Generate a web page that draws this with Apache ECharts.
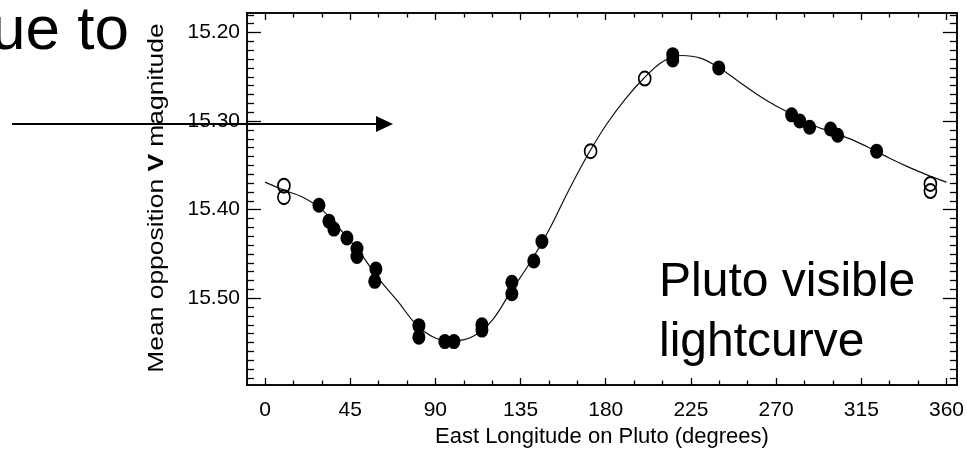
<!DOCTYPE html>
<html>
<head>
<meta charset="utf-8">
<script src="https://cdn.jsdelivr.net/npm/echarts@6/dist/echarts.min.js"></script>
<style>
html,body{margin:0;padding:0;background:#fff;}
#chart{width:967px;height:453px;}
</style>
</head>
<body>
<div id="chart"></div>
<script>
// ---- data (East longitude in degrees, mean opposition V magnitude) ----
var filledLon = [28.5, 33.8, 36.4, 43.3, 48.6, 48.6, 58.6, 58.0, 81.3, 81.3, 95.0, 99.8, 114.6, 114.6, 130.4, 130.4, 142.0, 146.3, 215.4, 215.4, 239.7, 278.2, 282.5, 287.7, 298.8, 302.5, 323.1];
var filledMag = [15.395, 15.413, 15.422, 15.432, 15.444, 15.453, 15.467, 15.481, 15.531, 15.544, 15.549, 15.549, 15.530, 15.536, 15.482, 15.495, 15.458, 15.436, 15.225, 15.231, 15.240, 15.293, 15.300, 15.307, 15.309, 15.316, 15.334];
var openLon = [10.0, 10.0, 172.0, 200.6, 351.5, 351.5];
var openMag = [15.373, 15.386, 15.334, 15.252, 15.371, 15.379];
var curveLon = [0, 10, 20, 30, 40, 50, 60, 70, 80, 90, 100, 110, 120, 130, 140, 150, 160, 170, 180, 190, 200, 210, 220, 230, 240, 250, 260, 270, 280, 290, 300, 310, 320, 330, 340, 350, 360];
var curveMag = [15.369, 15.378, 15.386, 15.400, 15.423, 15.448, 15.478, 15.503, 15.530, 15.545, 15.548, 15.543, 15.525, 15.492, 15.460, 15.423, 15.380, 15.340, 15.305, 15.276, 15.252, 15.233, 15.226, 15.229, 15.240, 15.255, 15.270, 15.283, 15.294, 15.305, 15.313, 15.321, 15.331, 15.342, 15.352, 15.361, 15.369];
var xMajorTicks = [0, 45, 90, 135, 180, 225, 270, 315, 360];
var xMinorTicks = [15, 30, 60, 75, 105, 120, 150, 165, 195, 210, 240, 255, 285, 300, 330, 345];
var yMajorTicks = [15.20, 15.30, 15.40, 15.50];

var yMinorTicks = [];
for (var i = 18; i <= 59; i++) {
  var v = Math.round((15 + i / 100) * 100) / 100;
  if (yMajorTicks.indexOf(v) < 0) yMinorTicks.push(v);
}
function pairs(a, b) { return a.map(function (x, i) { return [x, b[i]]; }); }

var FONT = 'Liberation Sans, Arial, sans-serif';
var X_MIN = -9.5, X_MAX = 365.5, Y_MIN = 15.178, Y_MAX = 15.598;
var axisLine = { show: true, onZero: false, lineStyle: { color: '#000', width: 1.5 } };

function xAx(pos, ticks, len, labels, name) {
  return {
    type: 'value', position: pos, min: X_MIN, max: X_MAX,
    axisLine: axisLine,
    axisTick: { show: true, inside: true, length: len, customValues: ticks, lineStyle: { color: '#000', width: 1.3 } },
    axisLabel: labels ? { show: true, customValues: xMajorTicks, fontSize: 21, color: '#000', fontFamily: FONT, margin: 15 } : { show: false },
    splitLine: { show: false },
    name: name || '', nameLocation: 'middle', nameGap: 41,
    nameTextStyle: { fontSize: 22, color: '#000', fontFamily: FONT }
  };
}
function yAx(pos, ticks, len, labels) {
  return {
    type: 'value', position: pos, min: Y_MIN, max: Y_MAX, inverse: true,
    axisLine: axisLine,
    axisTick: { show: true, inside: true, length: len, customValues: ticks, lineStyle: { color: '#000', width: 1.3 } },
    axisLabel: labels ? { show: true, customValues: yMajorTicks, fontSize: 21, color: '#000', fontFamily: FONT, margin: 7,
      formatter: function (v) { return v.toFixed(2); } } : { show: false },
    splitLine: { show: false }
  };
}

var chart = echarts.init(document.getElementById('chart'), null, { renderer: 'canvas' });
chart.setOption({
  backgroundColor: '#fff',
  animation: false,
  grid: { left: 247, top: 13, width: 710, height: 374 },
  xAxis: [
    xAx('bottom', xMajorTicks, 7, true, 'East Longitude on Pluto (degrees)'),
    xAx('bottom', xMinorTicks, 4.5, false),
    xAx('top', xMajorTicks, 7, false),
    xAx('top', xMinorTicks, 4.5, false)
  ],
  yAxis: [
    yAx('left', yMajorTicks, 14, true),
    yAx('left', yMinorTicks, 7, false),
    yAx('right', yMajorTicks, 14, false),
    yAx('right', yMinorTicks, 7, false)
  ],
  series: [
    { type: 'line', data: pairs(curveLon, curveMag), smooth: 0.35, showSymbol: false, symbol: 'none',
      lineStyle: { color: '#111', width: 1.2 }, z: 2 },
    { type: 'scatter', data: pairs(filledLon, filledMag), symbol: 'circle', symbolSize: [13, 15],
      itemStyle: { color: '#000', opacity: 1 }, z: 3 },
    { type: 'scatter', data: pairs(openLon, openMag), symbol: 'circle', symbolSize: [12, 14],
      itemStyle: { color: 'rgba(0,0,0,0)', borderColor: '#000', borderWidth: 1.8, opacity: 1 }, z: 4 }
  ],
  graphic: [
    { type: 'text', x: 157, y: 198, rotation: Math.PI / 2, scaleX: 1.2, z: 10,
      style: { text: '{a|Mean opposition }{b|V}{a| magnitude}', align: 'center', verticalAlign: 'middle',
        rich: { a: { fontSize: 22, fontFamily: FONT, fill: '#000' }, b: { fontSize: 22, fontFamily: FONT, fontWeight: 'bold', fill: '#000' } } } },
    { type: 'text', x: 129, y: 31.5, z: 10,
      style: { text: 'ue to', font: '62px ' + FONT, fill: '#000', align: 'right', verticalAlign: 'middle' } },
    { type: 'text', x: 659, y: 283, z: 10,
      style: { text: 'Pluto visible', font: '48px ' + FONT, fill: '#000', align: 'left', verticalAlign: 'middle' } },
    { type: 'text', x: 659, y: 343, z: 10,
      style: { text: 'lightcurve', font: '48px ' + FONT, fill: '#000', align: 'left', verticalAlign: 'middle' } },
    { type: 'line', z: 20, shape: { x1: 12, y1: 124, x2: 380, y2: 124 }, style: { stroke: '#000', lineWidth: 2 } },
    { type: 'polygon', z: 20, shape: { points: [[376, 116], [393, 124], [376, 132]] }, style: { fill: '#000' } }
  ]
});
</script>
</body>
</html>
